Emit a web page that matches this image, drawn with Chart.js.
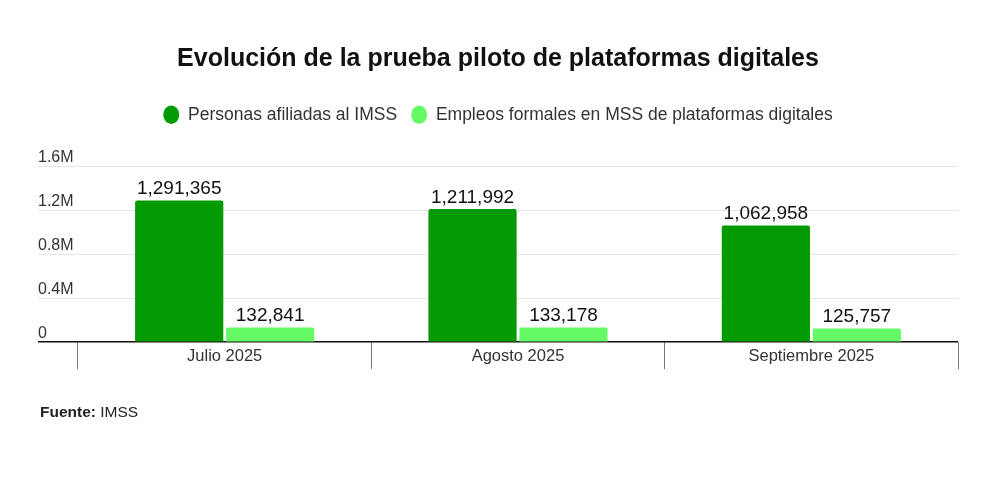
<!DOCTYPE html>
<html lang="es">
<head>
<meta charset="utf-8">
<title>Evolución de la prueba piloto de plataformas digitales</title>
<script src="https://cdn.jsdelivr.net/npm/chart.js@4.4.1/dist/chart.umd.min.js"></script>
<style>
    html, body { margin: 0; padding: 0; background: #fff; }
    #wrap { position: relative; width: 1000px; height: 500px; }
    #source {
        position: absolute; left: 40px; top: 403px;
        font-family: "Liberation Sans", Arial, sans-serif; font-size: 15.5px; color: #222;
    }
    #source b { font-weight: bold; }
</style>
</head>
<body>
<div id="wrap">
    <canvas id="pilotChart" width="1000" height="500"></canvas>
    <div id="source"><b>Fuente:</b> IMSS</div>
</div>
<script>
// Data
const months = ['Julio 2025', 'Agosto 2025', 'Septiembre 2025'];
const afiliadas = [1291365, 1211992, 1062958];
const empleos = [132841, 133178, 125757];
const seriesNames = ['Personas afiliadas al IMSS', 'Empleos formales en MSS de plataformas digitales'];
const yTickLabels = { 0: '0', 400000: '0.4M', 800000: '0.8M', 1200000: '1.2M', 1600000: '1.6M' };

const FONT = '"Liberation Sans", Arial, sans-serif';

// Draw value labels over each bar
const barValues = {
    id: 'barValues',
    afterDatasetsDraw(chart) {
        const ctx = chart.ctx;
        ctx.save();
        ctx.font = '19px ' + FONT;
        ctx.fillStyle = '#111';
        ctx.textAlign = 'center';
        ctx.textBaseline = 'bottom';
        chart.data.datasets.forEach((ds, i) => {
            chart.getDatasetMeta(i).data.forEach((bar, j) => {
                ctx.fillText(ds.data[j].toLocaleString('en-US'), bar.x, bar.y - 2);
            });
        });
        ctx.restore();
    }
};

const ctx = document.getElementById('pilotChart').getContext('2d');
const pilotChart = new Chart(ctx, {
    type: 'bar',
    data: {
        labels: months,
        datasets: [{
            label: seriesNames[0],
            data: afiliadas,
            xAxisID: 'x',
            yAxisID: 'y',
            backgroundColor: '#049a04',
            borderRadius: 2,
            borderSkipped: 'bottom'
        }, {
            label: seriesNames[1],
            data: empleos,
            xAxisID: 'x',
            yAxisID: 'y',
            backgroundColor: '#66f966',
            borderRadius: 2,
            borderSkipped: 'bottom'
        }]
    },
    options: {
        responsive: false,
        animation: false,
        categoryPercentage: 0.62,
        barPercentage: 0.97,
        layout: { padding: { left: 38, right: 42, bottom: 134 } },
        plugins: {
            title: {
                display: true,
                text: 'Evolución de la prueba piloto de plataformas digitales',
                color: '#111',
                font: { family: FONT, size: 25, weight: 'bold' },
                padding: { top: 44, bottom: 18 }
            },
            legend: {
                position: 'top',
                labels: {
                    usePointStyle: true,
                    pointStyle: 'circle',
                    boxHeight: 13,
                    pointStyleWidth: 16,
                    color: '#333',
                    padding: 14,
                    font: { family: FONT, size: 17.5 }
                }
            },
            tooltip: { enabled: false }
        },
        scales: {
            x: {
                offset: true,
                weight: 1,
                border: { display: false },
                grid: { display: false, tickLength: 4 },
                ticks: {
                    maxRotation: 0,
                    padding: 0,
                    color: '#333',
                    font: { family: FONT, size: 16.5 }
                }
            },
            // separators between months, drawn as the ticks of a zero-height axis
            xSep: {
                type: 'category',
                labels: months,
                position: 'bottom',
                offset: true,
                weight: 0,
                border: { display: false },
                grid: {
                    offset: true,
                    drawOnChartArea: false,
                    tickLength: 27,
                    color: '#777'
                },
                ticks: { display: false },
                afterFit(scale) { scale.height = 0; }
            },
            // empty axis, only keeps space between legend and plot
            gap: {
                type: 'linear',
                position: 'top',
                grid: { display: false },
                border: { display: false },
                ticks: { display: false },
                afterFit(scale) { scale.height = 33; }
            },
            y: {
                min: 0,
                max: 1600000,
                afterFit(scale) { scale.width = 40; },
                border: { display: false },
                grid: {
                    tickLength: 40,
                    color: c => c.tick && c.tick.value === 0 ? '#111' : '#e6e6e6',
                    tickColor: c => c.tick && c.tick.value === 0 ? '#111' : '#e6e6e6',
                    lineWidth: c => c.tick && c.tick.value === 0 ? 1.5 : 1
                },
                ticks: {
                    stepSize: 400000,
                    crossAlign: 'far',
                    labelOffset: -9,
                    color: '#333',
                    font: { family: FONT, size: 16 },
                    callback: v => yTickLabels[v]
                }
            }
        }
    },
    plugins: [barValues]
});
</script>
</body>
</html>
